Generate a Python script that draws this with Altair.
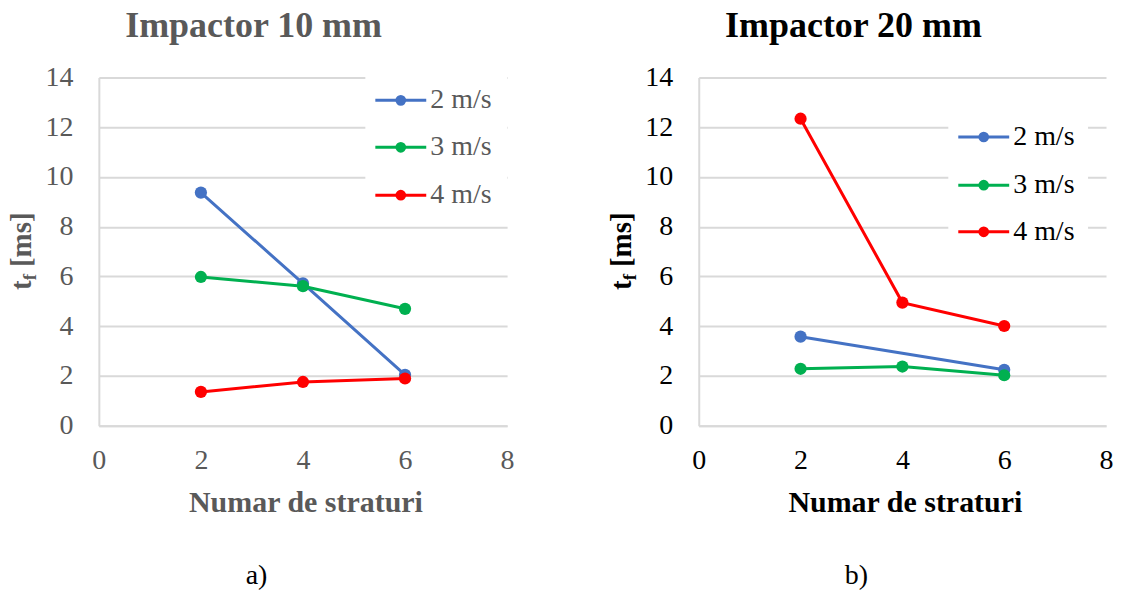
import altair as alt
import pandas as pd

# ---------------- data ----------------
layers_x = [2, 4, 6]
series_names = ["2 m/s", "3 m/s", "4 m/s"]
series_colors = ["#4472C4", "#00B050", "#FF0000"]

left_2 = [9.37, 5.72, 2.05]
left_3 = [5.98, 5.61, 4.70]
left_4 = [1.36, 1.76, 1.90]

right_2 = [3.58, None, 2.25]
right_3 = [2.29, 2.38, 2.03]
right_4 = [12.34, 4.95, 4.01]

x_ticks = [0, 2, 4, 6, 8]
y_ticks = [0, 2, 4, 6, 8, 10, 12, 14]

panel_titles = ["Impactor 10 mm", "Impactor 20 mm"]
x_title = "Numar de straturi"
y_title_main = "t"
y_title_sub = "f"
y_title_unit = "[ms]"
sub_labels = ["a)", "b)"]

FONT = "Times"
FONT_B = "Liberation Serif"
FS = 28
FW = 500
H = 349


def make_df(series_vals):
    rows = []
    for name, vals in zip(series_names, series_vals):
        for x, v in zip(layers_x, vals):
            if v is not None:
                rows.append({"layers": x, "tf": v, "series": name})
    return pd.DataFrame(rows)


def one(label):
    return alt.Chart(pd.DataFrame({"label": [label]}))


def panel(df, width, title, sub, tcol, leg_x, leg_ys, box, left_bound, right_bound):
    color = alt.Color("series:N",
                      scale=alt.Scale(domain=series_names, range=series_colors),
                      legend=None)
    xenc = alt.X("layers:Q", scale=alt.Scale(domain=[0, 8], nice=False),
                 axis=alt.Axis(values=x_ticks, title=None, grid=False, ticks=False,
                               tickSize=0, domain=True, domainColor="#D9D9D9",
                               domainWidth=2, labelFont=FONT, labelFontSize=FS,
                               labelFontWeight=FW, labelColor=tcol, labelPadding=21,
                               labelFlush=False))
    yenc = alt.Y("tf:Q", scale=alt.Scale(domain=[0, 14], nice=False),
                 axis=alt.Axis(values=y_ticks, title=None, grid=True,
                               gridColor="#D9D9D9", gridWidth=2, ticks=False,
                               tickSize=0, domain=True, domainColor="#D9D9D9",
                               domainWidth=2, labelFont=FONT, labelFontSize=FS,
                               labelFontWeight=FW, labelColor=tcol, labelPadding=26))
    base = alt.Chart(df)
    lines = base.mark_line(strokeWidth=3).encode(x=xenc, y=yenc, color=color)
    points = base.mark_circle(size=150, opacity=1).encode(x=xenc, y=yenc, color=color)

    bx1, bx2, by1, by2 = box
    legbox = one("").mark_rect(color="white").encode(
        x=alt.value(bx1), x2=alt.value(bx2), y=alt.value(by1), y2=alt.value(by2))

    leg = []
    for name, c, ly in zip(series_names, series_colors, leg_ys):
        leg.append(one(name).mark_rule(color=c, strokeWidth=3).encode(
            x=alt.value(leg_x), x2=alt.value(leg_x + 51), y=alt.value(ly)))
        leg.append(one(name).mark_circle(color=c, size=115, opacity=1).encode(
            x=alt.value(leg_x + 25.5), y=alt.value(ly)))
        leg.append(one(name).mark_text(align="left", baseline="middle", font=FONT,
                                       fontSize=FS, fontWeight=FW, color=tcol).encode(
            text="label:N", x=alt.value(leg_x + 55), y=alt.value(ly)))

    ttl = one(title).mark_text(align="center", baseline="alphabetic", font=FONT_B,
                               fontSize=36, fontWeight="bold", color=tcol).encode(
        text="label:N", x=alt.value(155), y=alt.value(-40))
    xt = one(x_title).mark_text(align="center", baseline="alphabetic", font=FONT_B,
                                fontSize=30, fontWeight="bold", color=tcol).encode(
        text="label:N", x=alt.value(width / 2 + 3), y=alt.value(435))
    yt1 = one(y_title_main).mark_text(align="left", baseline="alphabetic", angle=270,
                                      font=FONT_B, fontSize=29, fontWeight="bold",
                                      color=tcol).encode(
        text="label:N", x=alt.value(-68), y=alt.value(213))
    yt2 = one(y_title_sub).mark_text(align="left", baseline="alphabetic", angle=270,
                                     font=FONT_B, fontSize=19, fontWeight="bold",
                                     color=tcol).encode(
        text="label:N", x=alt.value(-63), y=alt.value(203.3))
    yt3 = one(y_title_unit).mark_text(align="left", baseline="alphabetic", angle=270,
                                      font=FONT_B, fontSize=29, fontWeight="bold",
                                      color=tcol).encode(
        text="label:N", x=alt.value(-68), y=alt.value(190))
    sl = one(sub).mark_text(align="center", baseline="alphabetic", font=FONT,
                            fontSize=FS, fontWeight=FW, color="black").encode(
        text="label:N", x=alt.value(158), y=alt.value(508))
    # invisible layout anchors (define panel bounds)
    anchor_l = one("").mark_rect(opacity=0).encode(
        x=alt.value(left_bound), x2=alt.value(left_bound + 1),
        y=alt.value(-69), y2=alt.value(-68))
    anchor_r = one("").mark_rect(opacity=0).encode(
        x=alt.value(right_bound - 1), x2=alt.value(right_bound),
        y=alt.value(-69), y2=alt.value(-68))

    return alt.layer(lines, points, legbox, *leg, ttl, xt, yt1, yt2, yt3, sl,
                     anchor_l, anchor_r).properties(width=width, height=H)


left = panel(make_df([left_2, left_3, left_4]), 409, panel_titles[0], sub_labels[0],
             "#595959", 277, [23, 70, 118], (267, 409, -5, 143), -91, 449)
right = panel(make_df([right_2, right_3, right_4]), 408, panel_titles[1], sub_labels[1],
              "#000000", 260, [59.7, 108, 154.7], (250, 390, 38, 178), -152, 416)

chart = alt.hconcat(left, right, spacing=0).properties(
    padding={"left": 0, "top": 0, "right": 0, "bottom": 0}
).configure_view(strokeWidth=0)

chart.save("out.html", embed_options={"renderer": "svg", "actions": False})
